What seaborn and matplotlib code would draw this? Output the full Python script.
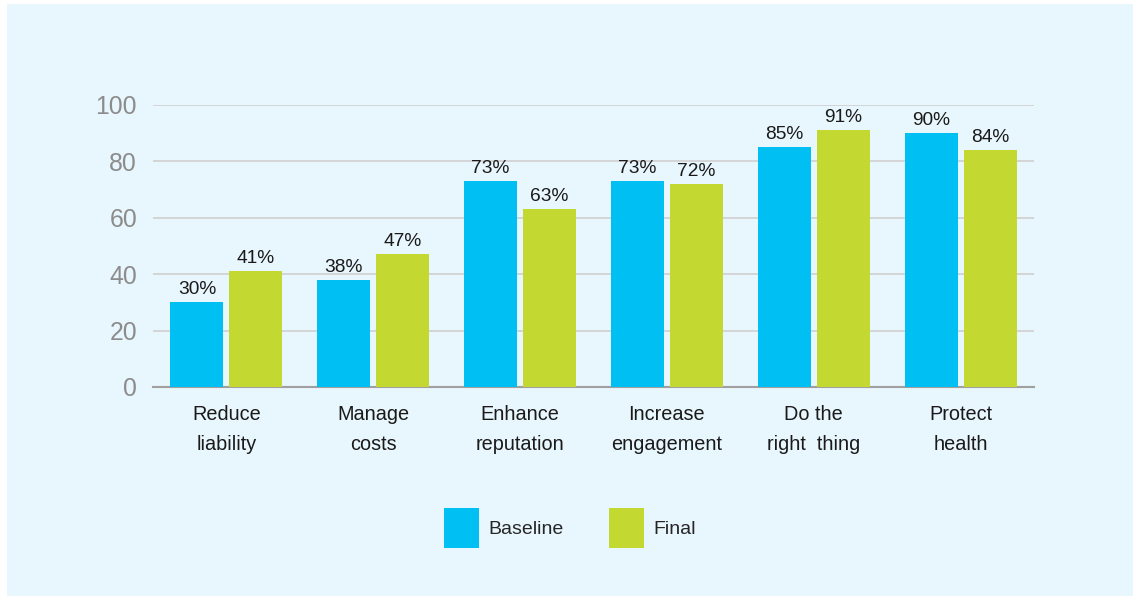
import pandas as pd
import matplotlib
matplotlib.use('Agg')
import matplotlib.pyplot as plt
from matplotlib.patches import Patch
import seaborn as sns

# chart data
categories = ['Reduce\nliability', 'Manage\ncosts', 'Enhance\nreputation',
              'Increase\nengagement', 'Do the\nright  thing', 'Protect\nhealth']
baseline = [30, 38, 73, 73, 85, 90]
final = [41, 47, 63, 72, 91, 84]
series_names = ['Baseline', 'Final']
y_ticks = [0, 20, 40, 60, 80, 100]

colors = {'Baseline': '#00C0F3', 'Final': '#C3D831'}
bg = '#E8F6FD'

df = pd.DataFrame({
    'category': categories * 2,
    'value': baseline + final,
    'series': ['Baseline'] * len(categories) + ['Final'] * len(categories),
})

sns.set_style('white')
plt.rcParams['font.family'] = ['Liberation Sans', 'DejaVu Sans']

fig = plt.figure(figsize=(11.39, 6), dpi=100)
fig.patch.set_facecolor('white')
# light blue panel behind everything
panel = plt.Rectangle((7 / 1139, 4 / 600), 1126 / 1139, 592 / 600,
                      transform=fig.transFigure, facecolor=bg,
                      edgecolor='none', zorder=-10)
fig.add_artist(panel)

ax = fig.add_axes([153 / 1139, 1 - 387 / 600, 881 / 1139, 282 / 600])
ax.set_facecolor('none')

sns.barplot(data=df, x='category', y='value', hue='series', palette=colors,
            width=0.803, gap=0.10, ax=ax, legend=False, saturation=1,
            errorbar=None, linewidth=0, zorder=3)

for cont in ax.containers:
    ax.bar_label(cont, labels=[f'{int(v)}%' for v in cont.datavalues],
                 padding=3, fontsize=13.8, color='#1A1A1A')

ax.set_xlim(-0.5, 5.5)
ax.set_ylim(0, 100)
ax.set_yticks(y_ticks)
ax.yaxis.grid(True, color='#D0CFCF', linewidth=1.2, zorder=0)
ax.set_axisbelow(True)
for s in ['top', 'right', 'left']:
    ax.spines[s].set_visible(False)
ax.spines['bottom'].set_color('#A0A0A0')
ax.spines['bottom'].set_linewidth(1.5)
ax.tick_params(axis='y', length=0, pad=11.5, labelsize=17.8, labelcolor='#8C8C8C')
ax.tick_params(axis='x', length=0, pad=13, labelsize=14.3, labelcolor='#1A1A1A')
for lbl in ax.get_xticklabels():
    lbl.set_linespacing(1.75)
ax.set_xlabel('')
ax.set_ylabel('')

handles = [Patch(facecolor=colors[n], edgecolor='none') for n in series_names]
fig.legend(handles, series_names, loc='center', bbox_to_anchor=(570 / 1139, 1 - 528 / 600),
           ncol=2, frameon=False, fontsize=14, handlelength=1.8, handleheight=2.8,
           handletextpad=0.5, columnspacing=2.3)

fig.savefig('out.png', dpi=100, facecolor='white')
